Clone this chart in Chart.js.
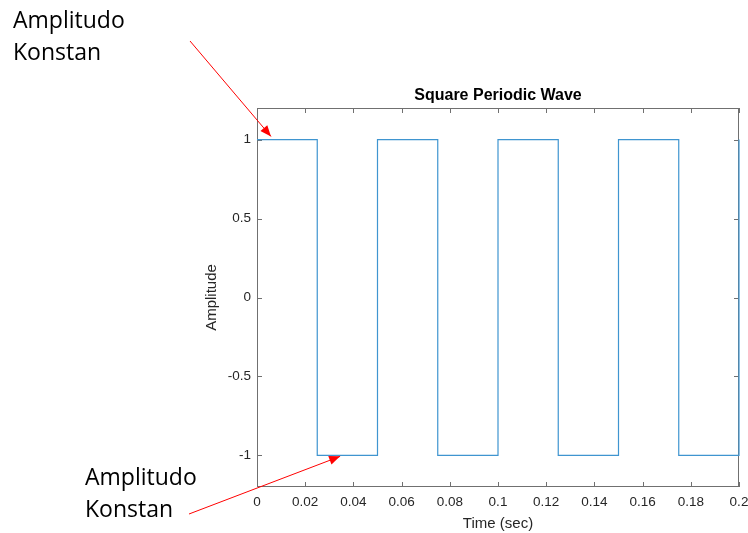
<!DOCTYPE html>
<html>
<head>
<meta charset="utf-8">
<script src="https://cdn.jsdelivr.net/npm/chart.js@4/dist/chart.umd.min.js"></script>
<style>
  html, body { margin: 0; padding: 0; background: #fff; }
  #wrap { width: 748px; height: 533px; }
</style>
</head>
<body>
<div id="wrap"><canvas id="waveChart" width="748" height="533"></canvas></div>
<script>
// square wave: value at each edge time (stepped line holds it until next time)
const times = [0, 0.025, 0.05, 0.075, 0.1, 0.125, 0.15, 0.175, 0.2];
const values = [1, -1, 1, -1, 1, -1, 1, -1, 1];
const xTicks = [0, 0.02, 0.04, 0.06, 0.08, 0.1, 0.12, 0.14, 0.16, 0.18, 0.2];
const yTicks = [-1, -0.5, 0, 0.5, 1];

const axisColor = "#262626";
const sans = "'Liberation Sans', Arial, sans-serif";
const tickFont = { family: sans, size: 13.5 };

// box with inward tick marks on all four sides
const boxPlugin = {
  id: "matlabBox",
  beforeDatasetsDraw(chart) {
    const { ctx, chartArea: a, scales } = chart;
    ctx.save();
    ctx.strokeStyle = "#707070";
    ctx.lineWidth = 1;
    ctx.strokeRect(a.left + 0.5, a.top + 0.5, a.right - a.left - 1, a.bottom - a.top - 1);
    ctx.beginPath();
    xTicks.forEach((v) => {
      const x = Math.round(scales.x.getPixelForValue(v)) + 0.5;
      ctx.moveTo(x, a.bottom); ctx.lineTo(x, a.bottom - 5);
      ctx.moveTo(x, a.top); ctx.lineTo(x, a.top + 5);
    });
    yTicks.forEach((v) => {
      const y = Math.round(scales.y.getPixelForValue(v)) + 0.5;
      ctx.moveTo(a.left, y); ctx.lineTo(a.left + 5, y);
      ctx.moveTo(a.right, y); ctx.lineTo(a.right - 5, y);
    });
    ctx.stroke();
    ctx.restore();
  },
  afterDraw(chart) {
    const { ctx, scales } = chart;
    ctx.save();
    ctx.fillStyle = "#000";
    ctx.font = "23px 'Open Sans', 'Noto Sans', sans-serif";
    ctx.textBaseline = "alphabetic";
    ctx.fillText("Amplitudo", 13, 28);
    ctx.fillText("Konstan", 13, 60);
    ctx.fillText("Amplitudo", 85, 485);
    ctx.fillText("Konstan", 85, 517);

    const arrow = (x0, y0, x1, y1) => {
      ctx.strokeStyle = "#ff0000";
      ctx.fillStyle = "#ff0000";
      ctx.lineWidth = 1;
      ctx.beginPath();
      ctx.moveTo(x0, y0);
      ctx.lineTo(x1, y1);
      ctx.stroke();
      const ang = Math.atan2(y1 - y0, x1 - x0);
      const len = 11, wid = 4.5;
      ctx.beginPath();
      ctx.moveTo(x1, y1);
      ctx.lineTo(x1 - len * Math.cos(ang) + wid * Math.sin(ang), y1 - len * Math.sin(ang) - wid * Math.cos(ang));
      ctx.lineTo(x1 - len * Math.cos(ang) - wid * Math.sin(ang), y1 - len * Math.sin(ang) + wid * Math.cos(ang));
      ctx.closePath();
      ctx.fill();
    };
    arrow(190, 41, scales.x.getPixelForValue(0.0058), scales.y.getPixelForValue(1.02));
    arrow(189, 514, scales.x.getPixelForValue(0.0345), scales.y.getPixelForValue(-1.006));
    ctx.restore();
  },
};

const ctx = document.getElementById("waveChart").getContext("2d");
new Chart(ctx, {
  type: "line",
  data: {
    datasets: [
      {
        label: "square",
        data: times.map((t, i) => ({ x: t, y: values[i] })),
        stepped: true,
        borderColor: "#3f95d0",
        borderWidth: 1.2,
        pointRadius: 0,
        fill: false,
        clip: 2,
      },
    ],
  },
  options: {
    responsive: false,
    animation: false,
    layout: { padding: { left: 0, right: 9, top: 0, bottom: 0 } },
    plugins: {
      legend: { display: false },
      tooltip: { enabled: false },
      title: {
        display: true,
        text: "Square Periodic Wave",
        fullSize: false,
        color: "#000",
        font: { family: sans, size: 16, weight: "bold" },
        padding: { top: 86, bottom: 2.8 },
      },
    },
    scales: {
      x: {
        type: "linear",
        min: 0,
        max: 0.2,
        grid: { display: false, drawTicks: false },
        border: { display: false },
        afterBuildTicks: (scale) => { scale.ticks = xTicks.map((v) => ({ value: v })); },
        afterFit: (scale) => {
          scale.height = 46;
          scale.paddingLeft = 0;
          scale.paddingRight = 0;
        },
        ticks: {
          color: axisColor,
          font: tickFont,
          padding: 7,
          autoSkip: false,
          maxRotation: 0,
          callback: (v) => String(+v.toFixed(3)),
        },
        title: {
          display: true,
          text: "Time (sec)",
          color: axisColor,
          font: { family: sans, size: 15 },
          padding: { top: 0, bottom: 0 },
        },
      },
      y: {
        type: "linear",
        min: -1.2,
        max: 1.2,
        grid: { display: false, drawTicks: false },
        border: { display: false },
        afterBuildTicks: (scale) => { scale.ticks = yTicks.map((v) => ({ value: v })); },
        afterFit: (scale) => { scale.width = 257; },
        ticks: {
          color: axisColor,
          font: tickFont,
          padding: 6,
          callback: (v) => String(v),
        },
        title: {
          display: true,
          text: "Amplitude",
          color: axisColor,
          font: { family: sans, size: 15 },
          padding: { top: 203, bottom: 0 },
        },
      },
    },
  },
  plugins: [boxPlugin],
});
</script>
</body>
</html>
